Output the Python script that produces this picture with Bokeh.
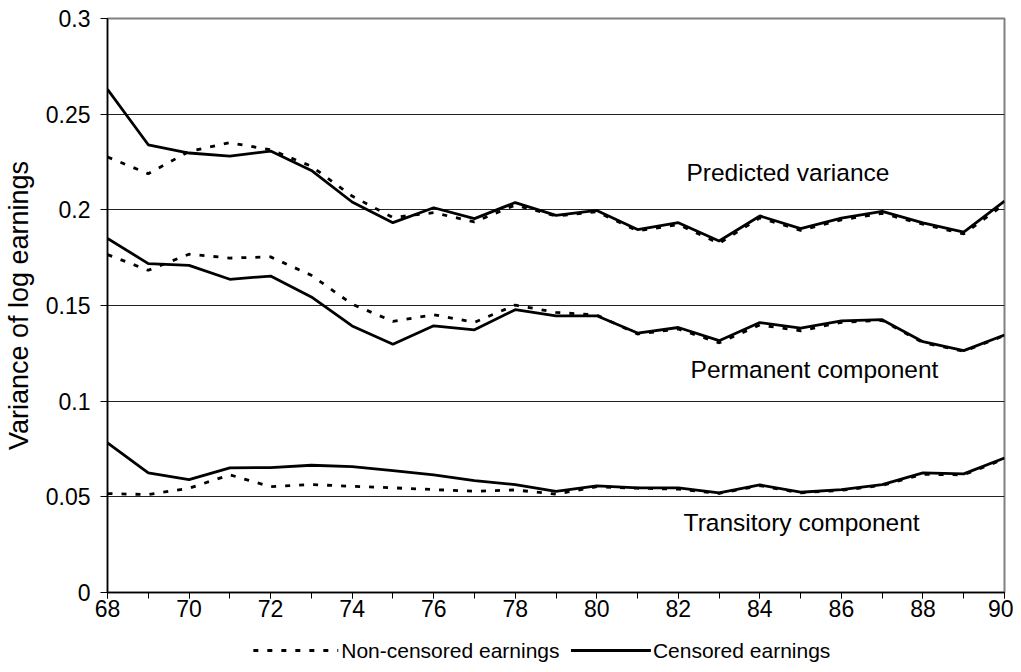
from bokeh.plotting import figure
from bokeh.layouts import column
from bokeh.models import (Range1d, SingleIntervalTicker, FixedTicker, CustomJSTickFormatter, Label)
from bokeh.core.properties import value
from bokeh.embed import file_html
from bokeh.resources import INLINE

years = list(range(68, 91))

pred_cens = [0.2630, 0.2340, 0.2297, 0.2281, 0.2307, 0.2206, 0.2041, 0.1933, 0.2011, 0.1954,
             0.2038, 0.1971, 0.1997, 0.1897, 0.1933, 0.1837, 0.1968, 0.1902, 0.1957, 0.1992,
             0.1932, 0.1884, 0.2046]
pred_nonc = [0.2276, 0.2189, 0.2305, 0.2351, 0.2314, 0.2228, 0.2072, 0.1960, 0.1985, 0.1937,
             0.2025, 0.1968, 0.1990, 0.1890, 0.1923, 0.1825, 0.1958, 0.1893, 0.1948, 0.1982,
             0.1925, 0.1874, 0.2030]
perm_cens = [0.1851, 0.1719, 0.1710, 0.1637, 0.1654, 0.1545, 0.1393, 0.1297, 0.1394, 0.1373,
             0.1478, 0.1446, 0.1446, 0.1356, 0.1385, 0.1316, 0.1411, 0.1382, 0.1420, 0.1426,
             0.1311, 0.1264, 0.1346]
perm_nonc = [0.1766, 0.1684, 0.1768, 0.1748, 0.1754, 0.1658, 0.1507, 0.1417, 0.1452, 0.1412,
             0.1502, 0.1464, 0.1450, 0.1351, 0.1377, 0.1305, 0.1398, 0.1368, 0.1412, 0.1422,
             0.1306, 0.1261, 0.1343]
trans_cens = [0.0782, 0.0625, 0.0590, 0.0651, 0.0653, 0.0665, 0.0658, 0.0637, 0.0615, 0.0585,
              0.0564, 0.0528, 0.0557, 0.0547, 0.0547, 0.0521, 0.0562, 0.0524, 0.0538, 0.0564,
              0.0625, 0.0620, 0.0703]
trans_nonc = [0.0517, 0.0512, 0.0545, 0.0615, 0.0553, 0.0564, 0.0555, 0.0547, 0.0538, 0.0529,
              0.0536, 0.0514, 0.0553, 0.0545, 0.0540, 0.0518, 0.0558, 0.0521, 0.0534, 0.0560,
              0.0618, 0.0615, 0.0698]

y_ticks = [0, 0.05, 0.1, 0.15, 0.2, 0.25, 0.3]
series_labels = ["Non-censored earnings", "Censored earnings"]
annotations = [("Predicted variance", 82.2, 0.2197),
               ("Permanent component", 82.3, 0.1165),
               ("Transitory component", 82.13, 0.0366)]

FONT = "Liberation Sans"
TICK_FS = "23px"
LW = 2.8
DASH = "5 9"
W = 1013
FRAME_L, FRAME_R = 106, 1004

# ---------------- main chart ----------------
p = figure(width=W, height=634, output_backend="svg", toolbar_location=None,
           x_range=Range1d(68, 90), y_range=Range1d(0, 0.3),
           min_border_left=FRAME_L, min_border_right=W - FRAME_R,
           min_border_top=18, min_border_bottom=42)
p.background_fill_color = "white"
p.border_fill_color = "white"
p.outline_line_color = "#808080"
p.outline_line_width = 2

p.xgrid.visible = False
p.ygrid.ticker = FixedTicker(ticks=y_ticks[1:-1])
p.ygrid.grid_line_color = "#222222"
p.ygrid.grid_line_width = 1

p.xaxis.ticker = SingleIntervalTicker(interval=2, num_minor_ticks=2)
p.xaxis.axis_line_color = "black"
p.xaxis.axis_line_width = 1.5
p.xaxis.major_tick_out = 6
p.xaxis.major_tick_in = 0
p.xaxis.minor_tick_out = 6
p.xaxis.minor_tick_in = 0
p.xaxis.minor_tick_line_color = "black"
p.xaxis.major_label_text_font = FONT
p.xaxis.major_label_text_font_size = TICK_FS
p.xaxis.major_label_text_color = "black"
p.xaxis.major_label_standoff = 1

p.yaxis.ticker = FixedTicker(ticks=y_ticks)
p.yaxis.formatter = CustomJSTickFormatter(code="return String(Math.round(tick*100)/100);")
p.yaxis.axis_line_color = "black"
p.yaxis.axis_line_width = 1.5
p.yaxis.major_tick_out = 7
p.yaxis.major_tick_in = 0
p.yaxis.minor_tick_line_color = None
p.yaxis.major_label_text_font = FONT
p.yaxis.major_label_text_font_size = TICK_FS
p.yaxis.major_label_text_color = "black"
p.yaxis.major_label_standoff = 10
p.yaxis.axis_label = "Variance of log earnings"
p.yaxis.axis_label_text_font = FONT
p.yaxis.axis_label_text_font_size = "27px"
p.yaxis.axis_label_text_font_style = "normal"
p.yaxis.axis_label_text_color = "black"
p.yaxis.axis_label_standoff = 9

for nonc, cens in [(pred_nonc, pred_cens), (perm_nonc, perm_cens), (trans_nonc, trans_cens)]:
    p.line(years, nonc, line_color="black", line_width=LW, line_dash=DASH)
    p.line(years, cens, line_color="black", line_width=LW)

for txt, x, y in annotations:
    p.add_layout(Label(x=x, y=y, text=txt, text_font=FONT, text_font_size="24.5px",
                       text_color="black", text_baseline="alphabetic", text_align="left"))

# ---------------- legend strip below (x in page pixels) ----------------
LEG_H = 34
leg = figure(width=W, height=LEG_H, output_backend="svg", toolbar_location=None,
             x_range=Range1d(FRAME_L, FRAME_R), y_range=Range1d(0, LEG_H),
             min_border_left=FRAME_L, min_border_right=W - FRAME_R,
             min_border_top=0, min_border_bottom=0)
leg.axis.visible = False
leg.grid.visible = False
leg.outline_line_color = None
leg.background_fill_color = "white"
leg.border_fill_color = "white"

ly = 18
leg_samples = [(252, 337, DASH), (570, 650, None)]
leg_text_x = [340, 652]
for (x0, x1, dash), tx, lab in zip(leg_samples, leg_text_x, series_labels):
    if dash:
        leg.line([x0, x1], [ly, ly], line_color="black", line_width=LW, line_dash=dash)
    else:
        leg.line([x0, x1], [ly, ly], line_color="black", line_width=LW)
    leg.text(x=[tx], y=[ly], text=[lab], text_font=value(FONT), text_font_size="21px",
             text_color="black", text_baseline="middle", text_align="left")

layout = column(p, leg, spacing=0)
open("out.html", "w").write(file_html(layout, INLINE))
